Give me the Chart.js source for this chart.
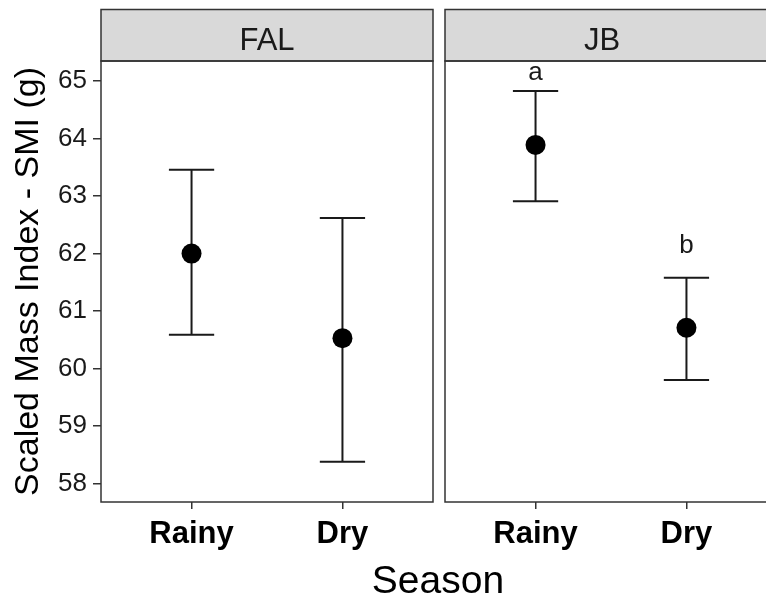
<!DOCTYPE html>
<html>
<head>
<meta charset="utf-8">
<script src="https://cdn.jsdelivr.net/npm/chart.js@4.4.1/dist/chart.umd.min.js"></script>
<style>
  html, body { margin: 0; padding: 0; background: #fff; }
  #wrap { position: relative; width: 766px; height: 601px; overflow: hidden; background: #fff; }
  canvas { position: absolute; top: 0; }
  #cv-fal { left: 0; }
  #cv-jb { left: 434px; }
  #xtitle {
    position: absolute; left: 438px; top: 560px; transform: translateX(-50%);
    font: 39px/39px 'Liberation Sans', Arial, sans-serif; color: #000; white-space: nowrap;
  }
</style>
</head>
<body>
<div id="wrap">
  <canvas id="cv-fal" width="434" height="601"></canvas>
  <canvas id="cv-jb" width="344" height="601"></canvas>
  <div id="xtitle">Season</div>
</div>
<script>
// dados
const seasons = ['Rainy', 'Dry'];
const yTicks = [58, 59, 60, 61, 62, 63, 64, 65];

const falMean = [62.00, 60.53];
const falLower = [60.59, 58.38];
const falUpper = [63.46, 62.62];

const jbMean = [63.89, 60.71];
const jbLower = [62.91, 59.80];
const jbUpper = [64.83, 61.58];
const jbLetters = ['a', 'b'];
const jbLetterY = [65.02, 62.01];

const FONT = "'Liberation Sans', Arial, sans-serif";
const Y_MIN = 57.68, Y_MAX = 65.35;

// desenha faixa do painel, borda, barras de erro e letras
const facetPlugin = {
    id: 'facet',
    beforeDatasetsDraw(chart, args, opts) {
        const { ctx, scales: { x, y } } = chart;
        ctx.save();
        ctx.strokeStyle = '#1a1a1a';
        ctx.lineWidth = 2;
        seasons.forEach((s, i) => {
            const px = x.getPixelForValue(i + 1);
            const half = x.getPixelForValue(i + 1 + 0.15) - px;
            const yl = y.getPixelForValue(opts.lower[i]);
            const yu = y.getPixelForValue(opts.upper[i]);
            ctx.beginPath();
            ctx.moveTo(px, yl); ctx.lineTo(px, yu);
            ctx.moveTo(px - half, yl); ctx.lineTo(px + half, yl);
            ctx.moveTo(px - half, yu); ctx.lineTo(px + half, yu);
            ctx.stroke();
        });
        ctx.restore();
    },
    afterDraw(chart, args, opts) {
        const { ctx, chartArea: a, scales: { x, y } } = chart;
        ctx.save();
        // faixa
        ctx.fillStyle = '#d9d9d9';
        ctx.strokeStyle = '#333';
        ctx.lineWidth = 1.5;
        ctx.fillRect(a.left, 9.5, a.right - a.left, a.top - 9.5);
        ctx.strokeRect(a.left, 9.5, a.right - a.left, a.top - 9.5);
        ctx.fillStyle = '#1a1a1a';
        ctx.font = '31px ' + FONT;
        ctx.textAlign = 'center';
        ctx.textBaseline = 'alphabetic';
        const mid = opts.stripCenter != null ? opts.stripCenter : (a.left + a.right) / 2;
        ctx.fillText(opts.label, mid, a.top - 11);
        // borda do painel
        ctx.strokeRect(a.left, a.top, a.right - a.left, a.bottom - a.top);
        // letras
        if (opts.letters) {
            ctx.font = '26px ' + FONT;
            ctx.fillStyle = '#1a1a1a';
            opts.letters.forEach((t, i) => {
                ctx.fillText(t, x.getPixelForValue(i + 1), y.getPixelForValue(opts.letterY[i]));
            });
        }
        ctx.restore();
    }
};

function gridOpts(len) {
    return { drawOnChartArea: false, drawTicks: true, tickLength: len, color: '#333', lineWidth: 1.5 };
}

function montarGrafico(canvasId, mean, facetOpts, comEixoY, padLeft) {
    const ctx = document.getElementById(canvasId).getContext('2d');
    return new Chart(ctx, {
        type: 'scatter',
        data: {
            datasets: [{
                data: mean.map((v, i) => ({ x: i + 1, y: v })),
                backgroundColor: '#000',
                borderColor: '#000',
                borderWidth: 0,
                pointRadius: 10,
                pointHoverRadius: 10
            }]
        },
        options: {
            responsive: false,
            animation: false,
            layout: { autoPadding: false, padding: { top: 61, right: 1, bottom: 49, left: padLeft } },
            plugins: {
                legend: { display: false },
                tooltip: { enabled: false },
                facet: facetOpts
            },
            scales: {
                x: {
                    type: 'linear',
                    min: 0.4,
                    max: 2.6,
                    afterBuildTicks: s => { s.ticks = seasons.map((_, i) => ({ value: i + 1 })); },
                    afterFit: s => { s.height = 50; s.paddingLeft = 0; s.paddingRight = 0; },
                    ticks: {
                        callback: v => seasons[Math.round(v) - 1],
                        font: { family: FONT, size: 31, weight: 'bold' },
                        color: '#000',
                        padding: 7,
                        maxRotation: 0
                    },
                    grid: gridOpts(7),
                    border: { display: false }
                },
                y: {
                    display: comEixoY,
                    min: Y_MIN,
                    max: Y_MAX,
                    afterBuildTicks: s => { s.ticks = yTicks.map(v => ({ value: v })); },
                    afterFit: s => { if (comEixoY) s.width = 101; },
                    ticks: {
                        font: { family: FONT, size: 26 },
                        color: '#1a1a1a',
                        padding: 6
                    },
                    grid: gridOpts(8),
                    border: { display: false },
                    title: {
                        display: true,
                        text: 'Scaled Mass Index - SMI (g)',
                        font: { family: FONT, size: 34 },
                        color: '#000',
                        padding: { top: 8, bottom: 0 }
                    }
                }
            }
        },
        plugins: [facetPlugin]
    });
}

montarGrafico('cv-fal', falMean, { label: 'FAL', lower: falLower, upper: falUpper }, true, 0);
montarGrafico('cv-jb', jbMean, {
    label: 'JB', lower: jbLower, upper: jbUpper,
    letters: jbLetters, letterY: jbLetterY, stripCenter: 602 - 434
}, false, 11);
</script>
</body>
</html>
